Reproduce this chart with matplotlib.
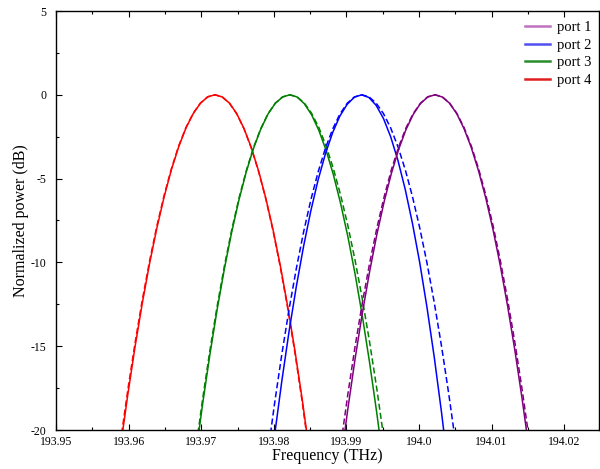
import matplotlib
matplotlib.use("Agg")
import matplotlib.pyplot as plt
from matplotlib.lines import Line2D
from matplotlib.ticker import MultipleLocator

plt.rcParams['font.family'] = ['Liberation Serif', 'DejaVu Serif']

# frequency offsets from each peak (GHz)
offset_ghz = [-14, -13, -12, -11, -10, -9, -8, -7, -6, -5, -4, -3, -2, -1, 0,
              1, 2, 3, 4, 5, 6, 7, 8, 9, 10, 11, 12, 13, 14]

# peak frequencies (THz)
peak_red = 193.9719
peak_green = 193.9822
peak_blue = 193.9921
peak_purple = 194.0022

# normalized power (dB), solid = measured, dashed = simulated
red_solid = [-24.30, -20.96, -17.86, -15.00, -12.40, -10.04, -7.94, -6.08, -4.46, -3.10, -1.98, -1.12, -0.50, -0.12, 0.0,
             -0.13, -0.50, -1.13, -2.02, -3.15, -4.54, -6.17, -8.06, -10.20, -12.60, -15.24, -18.14, -21.29, -24.69]
red_dash = [-23.93, -20.63, -17.58, -14.77, -12.21, -9.89, -7.81, -5.98, -4.40, -3.05, -1.95, -1.10, -0.49, -0.12, 0.0,
            -0.13, -0.51, -1.14, -2.03, -3.18, -4.57, -6.22, -8.13, -10.29, -12.70, -15.37, -18.29, -21.46, -24.89]
green_solid = [-25.09, -21.63, -18.43, -15.49, -12.80, -10.37, -8.19, -6.27, -4.61, -3.20, -2.05, -1.15, -0.51, -0.13, 0.0,
               -0.13, -0.53, -1.19, -2.12, -3.31, -4.76, -6.48, -8.46, -10.71, -13.22, -16.00, -19.04, -22.34, -25.91]
green_dash = [-24.69, -21.29, -18.14, -15.24, -12.60, -10.20, -8.06, -6.17, -4.54, -3.15, -2.02, -1.13, -0.50, -0.13, 0.0,
              -0.12, -0.49, -1.10, -1.95, -3.05, -4.40, -5.98, -7.81, -9.89, -12.21, -14.77, -17.58, -20.63, -23.93]
blue_solid = [-27.68, -23.87, -20.34, -17.09, -14.12, -11.44, -9.04, -6.92, -5.08, -3.53, -2.26, -1.27, -0.57, -0.14, 0.0,
              -0.16, -0.63, -1.41, -2.51, -3.92, -5.64, -7.68, -10.02, -12.69, -15.66, -18.95, -22.56, -26.47, -30.70]
blue_dash = [-25.09, -21.63, -18.43, -15.49, -12.80, -10.37, -8.19, -6.27, -4.61, -3.20, -2.05, -1.15, -0.51, -0.13, 0.0,
             -0.12, -0.50, -1.12, -1.98, -3.10, -4.46, -6.08, -7.94, -10.04, -12.40, -15.00, -17.86, -20.96, -24.30]
purple_solid = [-25.49, -21.98, -18.73, -15.74, -13.01, -10.54, -8.32, -6.37, -4.68, -3.25, -2.08, -1.17, -0.52, -0.13, 0.0,
                -0.13, -0.50, -1.13, -2.02, -3.15, -4.54, -6.17, -8.06, -10.20, -12.60, -15.24, -18.14, -21.29, -24.69]
purple_dash = [-24.30, -20.96, -17.86, -15.00, -12.40, -10.04, -7.94, -6.08, -4.46, -3.10, -1.98, -1.12, -0.50, -0.12, 0.0,
               -0.12, -0.49, -1.10, -1.95, -3.05, -4.40, -5.98, -7.81, -9.89, -12.21, -14.77, -17.58, -20.63, -23.93]

legend_labels = ['port 1', 'port 2', 'port 3', 'port 4']

C_RED = '#ff0000'
C_GREEN = '#008000'
C_BLUE = '#0000ff'
C_PURPLE = '#800080'

fig = plt.figure(figsize=(6.0, 4.69), dpi=100)
ax = fig.add_axes([56 / 600, 39 / 469, 543 / 600, 419 / 469])

def freqs(peak):
    return [peak + o / 1000.0 for o in offset_ghz]

lw = 1.1
dash = (4, 2)
series = [
    (peak_red, red_solid, red_dash, C_RED),
    (peak_green, green_solid, green_dash, C_GREEN),
    (peak_blue, blue_solid, blue_dash, C_BLUE),
    (peak_purple, purple_solid, purple_dash, C_PURPLE),
]
for peak, sol, das, c in series:
    f = freqs(peak)
    ax.plot(f, sol, color=c, lw=lw, solid_capstyle='butt')
    ax.plot(f, das, color=c, lw=lw, dashes=dash)

ax.set_xlim(193.95, 194.02479)
ax.set_ylim(-20, 5)

ax.xaxis.set_major_locator(MultipleLocator(0.01))
ax.xaxis.set_minor_locator(MultipleLocator(0.005))
ax.yaxis.set_major_locator(MultipleLocator(5))
ax.yaxis.set_minor_locator(MultipleLocator(2.5))

xt = [193.95, 193.96, 193.97, 193.98, 193.99, 194.0, 194.01, 194.02]
xtl = ['193.95', '193.96', '193.97', '193.98', '193.99', '194.0', '194.01', '194.02']
ax.set_xticks(xt)
ax.set_xticklabels(xtl)
yt = [-20, -15, -10, -5, 0, 5]
ax.set_yticks(yt)
ax.set_yticklabels(['-20', '-15', '-10', '-5', '0', '5'])

ax.tick_params(which='both', direction='in', top=True, right=False, labelsize=8.5, width=0.8)
ax.tick_params(which='major', length=4)
ax.tick_params(which='minor', length=2.5)
ax.tick_params(axis='x', which='major', pad=4)
ax.tick_params(axis='y', which='major', pad=7)
for s in ax.spines.values():
    s.set_linewidth(1.0)

ax.set_xlabel('Frequency (THz)', fontsize=11.5)
ax.xaxis.set_label_coords(0.5, -0.044)
ax.set_ylabel('Normalized power (dB)', fontsize=11.5)
ax.yaxis.set_label_coords(-0.05, 0.5)

handles = [Line2D([0], [0], color='#c070c0', lw=1.8),
           Line2D([0], [0], color='#5050f0', lw=1.8),
           Line2D([0], [0], color='#2a8c2a', lw=1.8),
           Line2D([0], [0], color='#e01e1e', lw=1.8)]
ax.legend(handles, legend_labels, loc='upper right', frameon=False, fontsize=10.5,
          handlelength=1.75, handletextpad=0.45, labelspacing=0.3,
          borderaxespad=0.0, bbox_to_anchor=(0.997, 0.99))

fig.savefig('out.png', dpi=100)
